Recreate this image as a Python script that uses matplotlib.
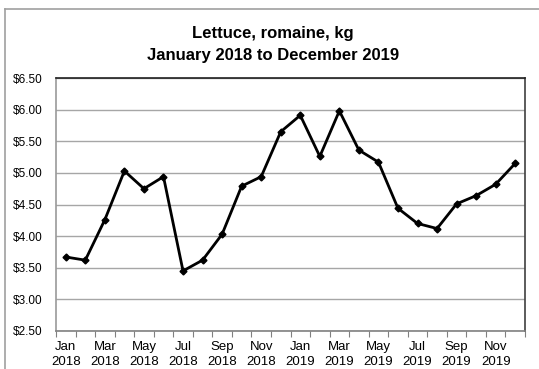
import matplotlib
matplotlib.use("Agg")
import matplotlib.pyplot as plt
from matplotlib.lines import Line2D
from matplotlib.ticker import FixedLocator, NullFormatter
from matplotlib.transforms import blended_transform_factory

plt.rcParams["font.family"] = ["Liberation Sans", "DejaVu Sans"]

months = ["Jan", "Feb", "Mar", "Apr", "May", "Jun",
          "Jul", "Aug", "Sep", "Oct", "Nov", "Dec"]
years = ["2018", "2019"]
cat_month = [m for y in years for m in months]
cat_year = [y for y in years for m in months]

prices = [3.67, 3.62, 4.26, 5.03, 4.75, 4.94, 3.45, 3.62, 4.03, 4.79, 4.94, 5.65,
          5.91, 5.26, 5.98, 5.36, 5.17, 4.44, 4.20, 4.12, 4.51, 4.64, 4.82, 5.15]

y_ticks = [2.50, 3.00, 3.50, 4.00, 4.50, 5.00, 5.50, 6.00, 6.50]
y_tick_labels = [f"${v:.2f}" for v in y_ticks]

title_lines = ["Lettuce, romaine, kg", "January 2018 to December 2019"]

W, H, DPI = 539, 369, 100
fig = plt.figure(figsize=(W / DPI, H / DPI), dpi=DPI)
fig.patch.set_facecolor("white")

left, right, top, bottom = 56, 525, 78, 331
ax = fig.add_axes([left / W, 1 - bottom / H, (right - left) / W, (bottom - top) / H])

n = len(prices)
x = list(range(n))
ax.plot(x, prices, color="black", lw=2.0, marker="D", markersize=3.5,
        markerfacecolor="black", markeredgecolor="black", zorder=3,
        solid_joinstyle="miter")

ax.set_xlim(-0.5, n - 0.5)
ax.set_ylim(2.5, 6.5)

# y axis: dollar labels, horizontal grid lines
ax.set_yticks(y_ticks)
ax.set_yticklabels(y_tick_labels, fontsize=8.5)
ax.tick_params(axis="y", length=0, pad=9.5)
ax.yaxis.grid(True, color="#a6a6a6", lw=1.0)
ax.set_axisbelow(True)

# x axis: tick marks on category boundaries
ax.xaxis.set_major_locator(FixedLocator([i - 0.5 for i in range(n + 1)]))
ax.xaxis.set_major_formatter(NullFormatter())
ax.tick_params(axis="x", which="major", direction="out", length=4,
               width=0.8, color="#808080")

# two-line category labels on every second month
lab_tr = blended_transform_factory(ax.transData, fig.transFigure)
for i in x[::2]:
    ax.text(i, 1 - 350 / H, cat_month[i], transform=lab_tr, ha="center",
            va="baseline", fontsize=9.5, clip_on=False)
    ax.text(i, 1 - 365 / H, cat_year[i], transform=lab_tr, ha="center",
            va="baseline", fontsize=9.5, clip_on=False)

for side, col in [("left", "#9a9a9a"), ("bottom", "#808080"),
                  ("top", "#202020"), ("right", "#404040")]:
    ax.spines[side].set_color(col)
    ax.spines[side].set_linewidth(1.2)

# chart-area frame
frame_col = "#a0a0a0"
fig.add_artist(Line2D([5 / W, 5 / W], [0, 1 - 9 / H], color=frame_col, lw=1.2,
                      transform=fig.transFigure))
fig.add_artist(Line2D([5 / W, 1], [1 - 9 / H, 1 - 9 / H], color=frame_col, lw=1.2,
                      transform=fig.transFigure))

fig.text(0.507, 1 - 38 / H, title_lines[0], ha="center", va="baseline",
         fontsize=12, fontweight="bold")
fig.text(0.507, 1 - 60 / H, title_lines[1], ha="center", va="baseline",
         fontsize=12, fontweight="bold")

fig.savefig("out.png", dpi=DPI)
